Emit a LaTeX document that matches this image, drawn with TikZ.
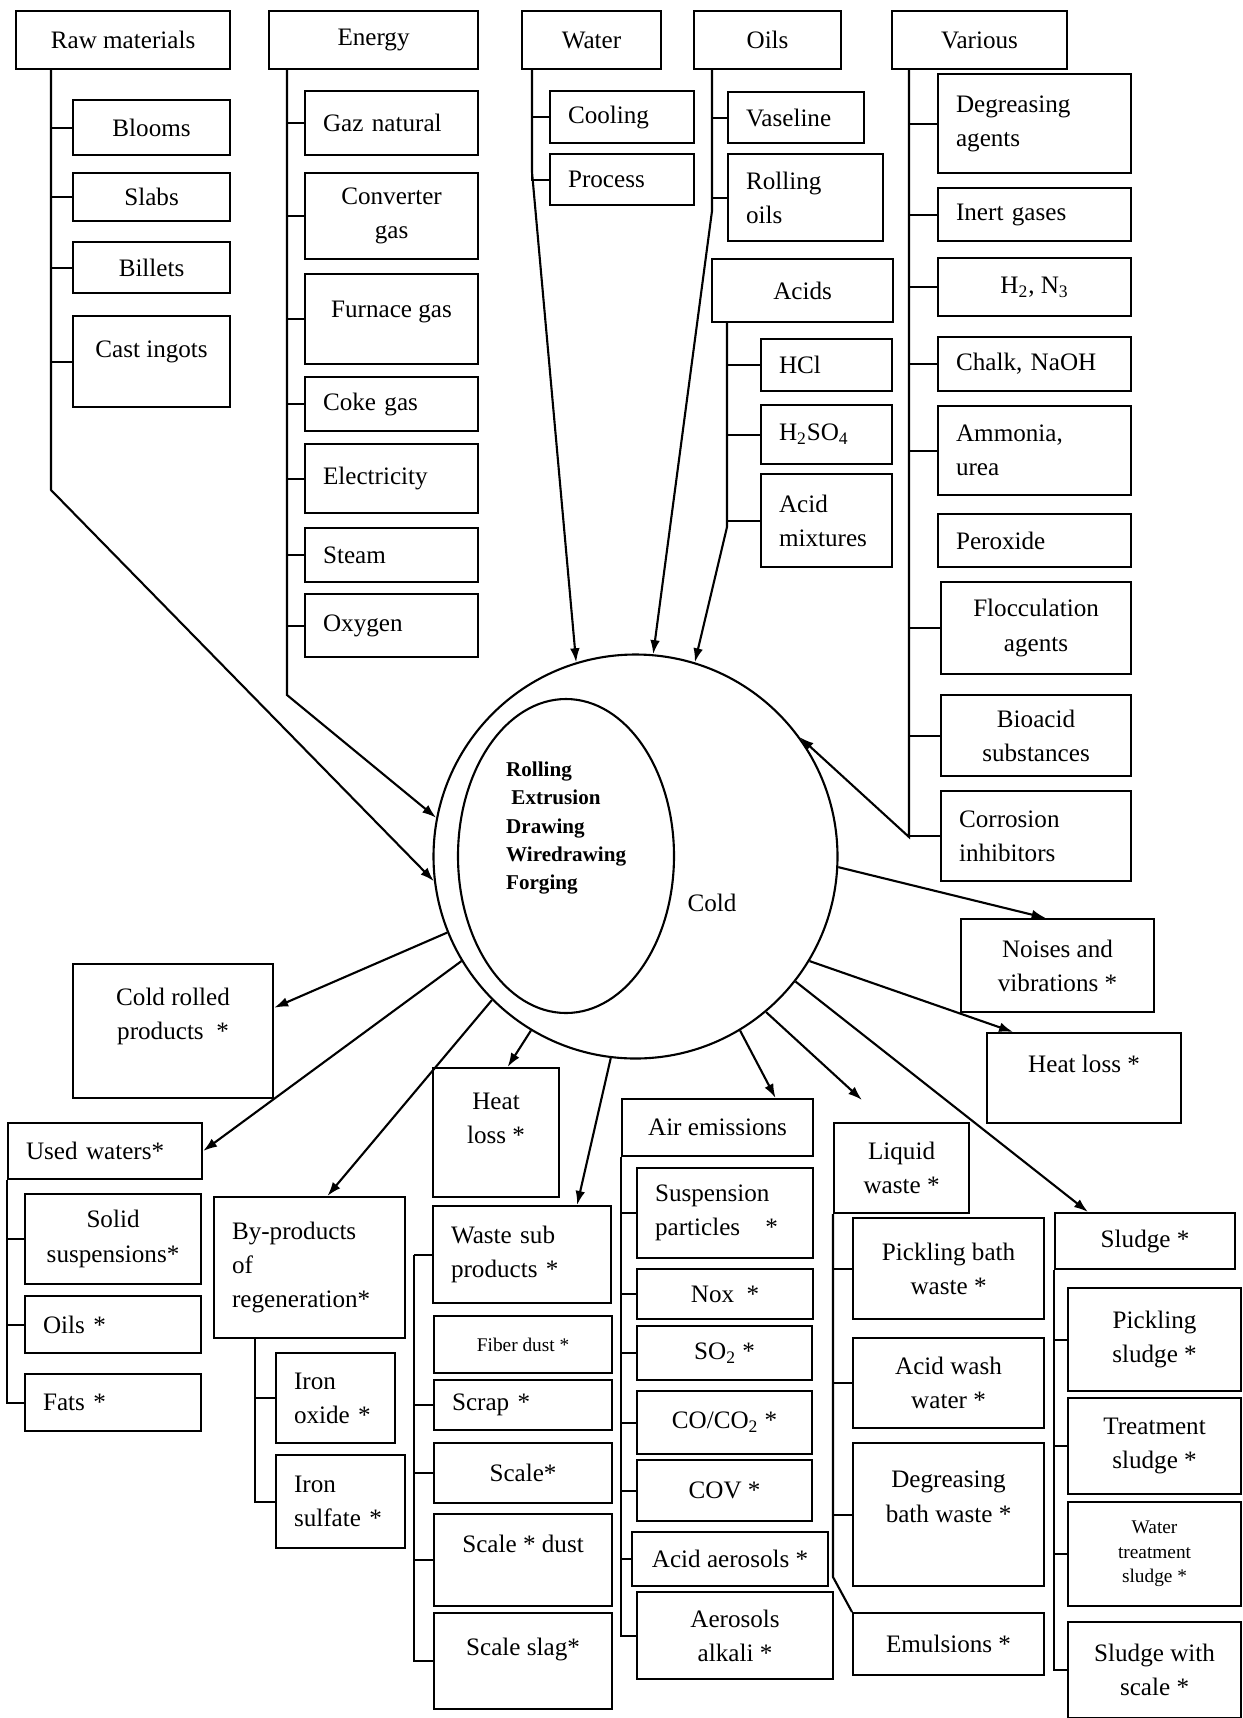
\documentclass[tikz,border=0pt]{standalone}
\usepackage{fontspec}
\setmainfont{Liberation Serif}
\usetikzlibrary{shapes.geometric,arrows.meta}
\tikzset{
  ln/.style={line width=1.2pt},
  arr/.style={line width=1.2pt,-{Latex[length=8pt,width=5.5pt]}},
  box/.style={draw,line width=1.2pt,rectangle,anchor=north west,inner sep=2pt,align=center,font=\fontsize{14.3}{19.5}\selectfont},
  sz/.style 2 args={minimum width=#1*0.02cm,minimum height=#2*0.02cm},
  lft/.code={\pgfmathsetlengthmacro\lftw{(#1-36)*0.02cm}\pgfkeysalso{align=left,text width=\lftw}},
  sm/.style={font=\fontsize{11}{14}\selectfont},
}
\begin{document}
\begin{tikzpicture}[x=0.02cm,y=-0.02cm]
\useasboundingbox (0,0) rectangle (1242,1718);

\node[draw,circle,line width=1.2pt,minimum size=404*0.02cm,inner sep=0pt] (proc) at (635.5,856.5) {};
\node[draw,ellipse,line width=1.2pt,minimum width=216*0.02cm,minimum height=314*0.02cm,inner sep=0pt] (inner) at (566,856) {};
\node[anchor=west,align=left,font=\fontsize{12}{16}\selectfont\bfseries] (steps) at (500,828) {Rolling\\\hspace*{3pt}Extrusion\\Drawing\\Wiredrawing\\Forging};
\node[font=\fontsize{14.3}{19.5}\selectfont] (coldlbl) at (712,903) {Cold};

\node[box,sz={214}{58}] (rawhdr) at (15,10) {Raw materials};
\node[box,sz={157}{55}] (blooms) at (72,99) {Blooms};
\node[box,sz={157}{48}] (slabs) at (72,172) {Slabs};
\node[box,sz={157}{51}] (billets) at (72,241) {Billets};
\node[box,sz={157}{91}] (ingots) at (72,315) {Cast ingots\\[-5pt]\mbox{}};

\node[box,sz={209}{58}] (energy) at (268,10) {Energy};
\node[box,sz={173}{64},lft=173] (gaz) at (304,90) {Gaz natural};
\node[box,sz={173}{86}] (conv) at (304,172) {Converter\\gas};
\node[box,sz={173}{90}] (furn) at (304,273) {Furnace gas\\[-8pt]\mbox{}};
\node[box,sz={173}{54},lft=173] (coke) at (304,376) {Coke gas};
\node[box,sz={173}{69},lft=173] (elec) at (304,443) {Electricity};
\node[box,sz={173}{54},lft=173] (steam) at (304,527) {Steam};
\node[box,sz={173}{63},lft=173] (oxy) at (304,593) {Oxygen};

\node[box,sz={139}{58}] (water) at (521,10) {Water};
\node[box,sz={144}{52},lft=144] (cool) at (549,90) {Cooling};
\node[box,sz={144}{51},lft=144] (procw) at (549,153) {Process};

\node[box,sz={147}{58}] (oils) at (693,10) {Oils};
\node[box,sz={136}{51},lft=136] (vasel) at (727,91) {Vaseline};
\node[box,sz={155}{87},lft=155] (roll) at (727,153) {Rolling\\oils};
\node[box,sz={181}{63}] (acids) at (711,258) {Acids};
\node[box,sz={131}{52},lft=131] (hcl) at (760,338) {HCl};
\node[box,sz={131}{59},lft=131] (hso) at (760,404) {H\textsubscript{2}SO\textsubscript{4}};
\node[box,sz={131}{93},lft=131] (amix) at (760,473) {Acid\\mixtures};

\node[box,sz={175}{58}] (various) at (891,10) {Various};
\node[box,sz={193}{99},lft=193] (degr) at (937,73) {Degreasing\\agents};
\node[box,sz={193}{53},lft=193] (inert) at (937,187) {Inert gases};
\node[box,sz={193}{58}] (htwo) at (937,257) {H\textsubscript{2}, N\textsubscript{3}};
\node[box,sz={193}{54},lft=193] (chalk) at (937,336) {Chalk, NaOH};
\node[box,sz={193}{89},lft=193] (ammo) at (937,405) {Ammonia,\\urea};
\node[box,sz={193}{53},lft=193] (perox) at (937,513) {Peroxide};
\node[box,sz={190}{92}] (flocc) at (940,581) {Flocculation\\agents};
\node[box,sz={190}{81}] (bioac) at (940,694) {Bioacid\\substances};
\node[box,sz={190}{90},lft=190] (corr) at (940,790) {Corrosion\\inhibitors};

\node[box,sz={200}{134}] (crp) at (72,963) {Cold rolled\\products\enspace*\\\mbox{}};
\node[box,sz={194}{56},lft=194] (usedw) at (7,1122) {Used waters*};
\node[box,sz={176}{90}] (solid) at (24,1193) {Solid\\suspensions*};
\node[box,sz={176}{57},lft=176] (oilsb) at (24,1295) {Oils *};
\node[box,sz={176}{57},lft=176] (fats) at (24,1373) {Fats *};

\node[box,sz={191}{141},lft=191] (byprod) at (213,1196) {By-products\\of\\regeneration*};
\node[box,sz={119}{90},lft=119] (ironox) at (275,1352) {Iron\\oxide *};
\node[box,sz={129}{93},lft=129] (ironsu) at (275,1454) {Iron\\sulfate *};

\node[box,sz={126}{129}] (heatm) at (432,1067) {Heat\\loss *\\[-3pt]\mbox{}};
\node[box,sz={178}{97},lft=178] (wastesub) at (432,1205) {Waste sub\\products *};
\node[box,sz={178}{57},sm] (fiber) at (433,1315) {Fiber dust *};
\node[box,sz={178}{50},lft=178] (scrap) at (433,1379) {Scrap *};
\node[box,sz={178}{60}] (scale) at (433,1442) {Scale*};
\node[box,sz={178}{92}] (scdust) at (433,1513) {Scale * dust\\[-1.5pt]\mbox{}};
\node[box,sz={178}{96}] (slag) at (433,1612) {Scale slag*\\[-3pt]\mbox{}};

\node[box,sz={191}{57}] (air) at (621,1098) {Air emissions};
\node[box,sz={176}{90},lft=176] (susp) at (636,1167) {Suspension\\particles\quad*};
\node[box,sz={176}{50}] (nox) at (636,1268) {Nox\enspace*};
\node[box,sz={175}{54}] (sotwo) at (636,1325) {SO\textsubscript{2} *};
\node[box,sz={175}{63}] (coco) at (636,1390) {CO/CO\textsubscript{2} *};
\node[box,sz={175}{61}] (cov) at (636,1459) {COV *};
\node[box,sz={196}{54}] (acaer) at (631,1531) {Acid aerosols *};
\node[box,sz={196}{87}] (alkal) at (636,1591) {Aerosols\\alkali *};

\node[box,sz={135}{90}] (liquid) at (833,1122) {Liquid\\waste *};
\node[box,sz={191}{101}] (pickb) at (852,1217) {Pickling bath\\waste *};
\node[box,sz={191}{90}] (acidw) at (852,1337) {Acid wash\\water *};
\node[box,sz={191}{143}] (degb) at (852,1442) {Degreasing\\bath waste *\\[1pt]\mbox{}};
\node[box,sz={191}{62}] (emuls) at (852,1612) {Emulsions *};

\node[box,sz={193}{93}] (noise) at (960,918) {Noises and\\vibrations *};
\node[box,sz={194}{90}] (heatr) at (986,1032) {Heat loss *\\[-3.5pt]\mbox{}};
\node[box,sz={180}{56}] (sludge) at (1054,1212) {Sludge *};
\node[box,sz={173}{103}] (picks) at (1067,1287) {Pickling\\sludge *};
\node[box,sz={173}{96}] (treat) at (1067,1397) {Treatment\\sludge *};
\node[box,sz={173}{104},sm] (wtreat) at (1067,1501) {Water\\treatment\\sludge *};
\node[box,sz={173}{96}] (swscale) at (1067,1621) {Sludge with\\scale *};

\coordinate (rawtop) at (51,68);
\coordinate (rawbend) at (51,490);
\draw[ln] (rawtop) |- (blooms.west);
\draw[ln] (rawtop) |- (slabs.west);
\draw[ln] (rawtop) |- (billets.west);
\draw[ln] (rawtop) |- (ingots.west);
\draw[arr] (rawtop) -- (rawbend) -- (proc.187);

\coordinate (entop) at (287,68);
\coordinate (enbend) at (287,695);
\draw[ln] (entop) |- (gaz.west);
\draw[ln] (entop) |- (conv.west);
\draw[ln] (entop) |- (furn.west);
\draw[ln] (entop) |- (coke.west);
\draw[ln] (entop) |- (elec.west);
\draw[ln] (entop) |- (steam.west);
\draw[ln] (entop) |- (oxy.west);
\draw[arr] (entop) -- (enbend) -- (proc.169);

\coordinate (wtop) at (532,68);
\coordinate (wbend) at (532,172);
\draw[ln] (wtop) |- (cool.west);
\draw[ln] (wtop) |- (procw.west);
\draw[arr] (wtop) -- (wbend) -- (proc.107);

\coordinate (otop) at (712,68);
\coordinate (obend) at (712,211);
\draw[ln] (otop) |- (vasel.west);
\draw[ln] (otop) |- (roll.west);
\draw[arr] (otop) -- (obend) -- (proc.85);

\coordinate (atop) at (727,321);
\coordinate (abend) at (727,527);
\draw[ln] (atop) |- (hcl.west);
\draw[ln] (atop) |- (hso.west);
\draw[ln] (atop) |- (amix.west);
\draw[arr] (atop) -- (abend) -- (proc.73);

\coordinate (vtop) at (909,68);
\coordinate (vbend) at (909,837);
\draw[ln] (vtop) |- (degr.west);
\draw[ln] (vtop) |- (inert.west);
\draw[ln] (vtop) |- (htwo.west);
\draw[ln] (vtop) |- (chalk.west);
\draw[ln] (vtop) |- (ammo.west);
\draw[ln] (vtop) |- (flocc.west);
\draw[ln] (vtop) |- (bioac.west);
\draw[ln] (vtop) |- (corr.west);
\draw[arr] (vtop) -- (vbend) -- (proc.36);

\coordinate (liqtip) at (862,1100);
\draw[arr] (proc.202) -- (crp.13);
\draw[arr] (proc.211) -- (usedw.east);
\draw[arr] (proc.225) -- (byprod.76);
\draw[arr] (proc.239) -- (heatm.80);
\draw[arr] (proc.263) -- (wastesub.42);
\draw[arr] (proc.301) -- (air.27);
\draw[arr] (proc.310) -- (liqtip);
\draw[arr] (proc.322) -- (sludge.153);
\draw[arr] (proc.329) -- (heatr.147);
\draw[arr] (proc.357) -- (noise.104);

\draw[ln] (usedw.south west) |- (solid.west);
\draw[ln] (usedw.south west) |- (oilsb.west);
\draw[ln] (usedw.south west) |- (fats.west);

\coordinate (bytop) at (255,1337);
\draw[ln] (bytop) |- (ironox.west);
\draw[ln] (bytop) |- (ironsu.west);

\draw[ln] (wastesub.west) -- ++(-18,0) coordinate (wsjoint);
\draw[ln] (wsjoint) |- (scrap.west);
\draw[ln] (wsjoint) |- (scale.west);
\draw[ln] (wsjoint) |- (scdust.west);
\draw[ln] (wsjoint) |- (slag.west);

\draw[ln] (air.south west) |- (susp.west);
\draw[ln] (air.south west) |- (nox.west);
\draw[ln] (air.south west) |- (sotwo.west);
\draw[ln] (air.south west) |- (coco.west);
\draw[ln] (air.south west) |- (cov.west);
\draw[ln] (air.south west) |- (acaer.west);
\draw[ln] (air.south west) |- (alkal.west);

\coordinate (embend) at (833,1577);
\draw[ln] (liquid.south west) |- (pickb.west);
\draw[ln] (liquid.south west) |- (acidw.west);
\draw[ln] (liquid.south west) |- (degb.west);
\draw[ln] (liquid.south west) -- (embend) -- (emuls.north west);

\draw[ln] (sludge.south west) |- (picks.west);
\draw[ln] (sludge.south west) |- (treat.west);
\draw[ln] (sludge.south west) |- (wtreat.west);
\draw[ln] (sludge.south west) |- (swscale.west);
\end{tikzpicture}
\end{document}
